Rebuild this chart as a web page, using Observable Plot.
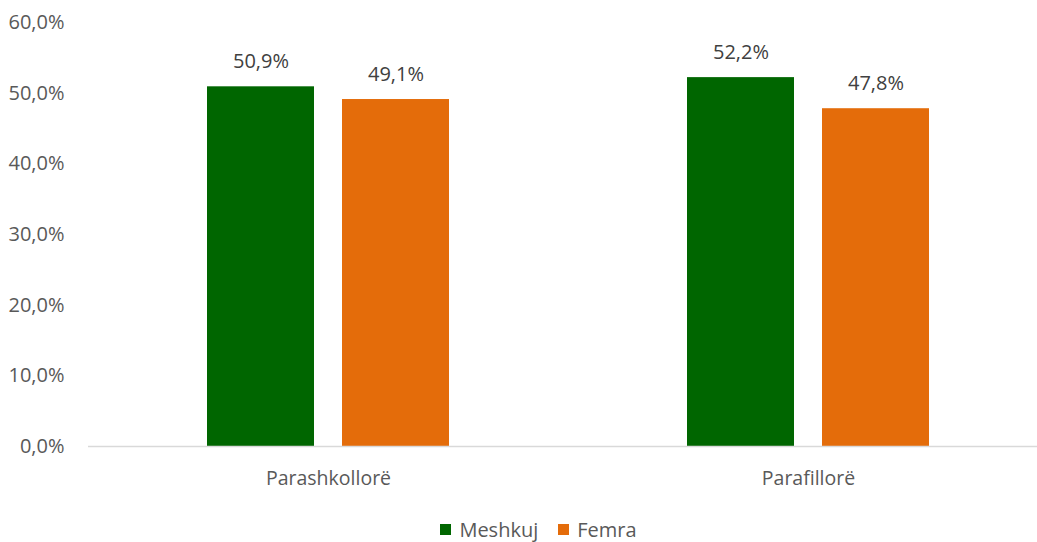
<!DOCTYPE html>
<html>
<head>
<meta charset="utf-8">
<script src="https://cdn.jsdelivr.net/npm/d3@7"></script>
<script src="https://cdn.jsdelivr.net/npm/@observablehq/plot@0.6"></script>
<style>
  html, body { margin: 0; padding: 0; background: #fff; }
  body { width: 1037px; height: 542px; overflow: hidden; font-family: "Open Sans", Lato, sans-serif; }
  #legend { display: flex; justify-content: center; align-items: center; gap: 20px; font-size: 20px; color: #595959; margin-top: 16px; padding-left: 40px; }
  .item { display: flex; align-items: center; gap: 8px; }
  .sw { width: 11px; height: 11px; display: inline-block; }
</style>
</head>
<body>
<div id="chart"></div>
<div id="legend"></div>
<script>
const categories = ["Parashkollorë", "Parafillorë"];
const series = ["Meshkuj", "Femra"];
const meshkuj = [50.9, 52.2];
const femra = [49.1, 47.8];
const colors = ["#006600", "#E46C0A"];
const yTicks = [0, 10, 20, 30, 40, 50, 60];

const data = [];
categories.forEach((c, i) => {
  data.push({category: c, series: series[0], value: meshkuj[i]});
  data.push({category: c, series: series[1], value: femra[i]});
});

const fmt = d => d.toFixed(1).replace(".", ",") + "%";

const chart = Plot.plot({
  width: 1037,
  height: 500,
  marginTop: 22,
  marginBottom: 54,
  marginLeft: 88,
  marginRight: 0,
  style: {fontFamily: "'Open Sans', Lato, sans-serif", fontSize: "19px", color: "#595959", background: "#fff"},
  fx: {domain: categories, range: [88, 1048], padding: 0, label: null},
  x: {domain: series, paddingInner: 0.206, paddingOuter: 0.868, axis: null},
  y: {domain: [0, 60], label: null},
  color: {domain: series, range: colors},
  marks: [
    Plot.axisY({ticks: yTicks, tickFormat: fmt, tickSize: 0, tickPadding: 24, fontSize: 20, label: null}),
    Plot.axisFx({anchor: "bottom", tickSize: 0, tickPadding: 25, fontSize: 19.5, label: null}),
    Plot.barY(data, {fx: "category", x: "series", y: "value", fill: "series"}),
    Plot.text(data, {fx: "category", x: "series", y: "value", text: d => fmt(d.value), dy: -25, fontSize: 20, fill: "#404040"}),
    Plot.ruleY([0], {stroke: "#d9d9d9", strokeWidth: 1.5})
  ]
});
document.getElementById("chart").appendChild(chart);

const legend = document.getElementById("legend");
series.forEach((s, i) => {
  const item = document.createElement("div");
  item.className = "item";
  const sw = document.createElement("span");
  sw.className = "sw";
  sw.style.background = colors[i];
  const t = document.createElement("span");
  t.textContent = s;
  item.appendChild(sw);
  item.appendChild(t);
  legend.appendChild(item);
});
</script>
</body>
</html>
